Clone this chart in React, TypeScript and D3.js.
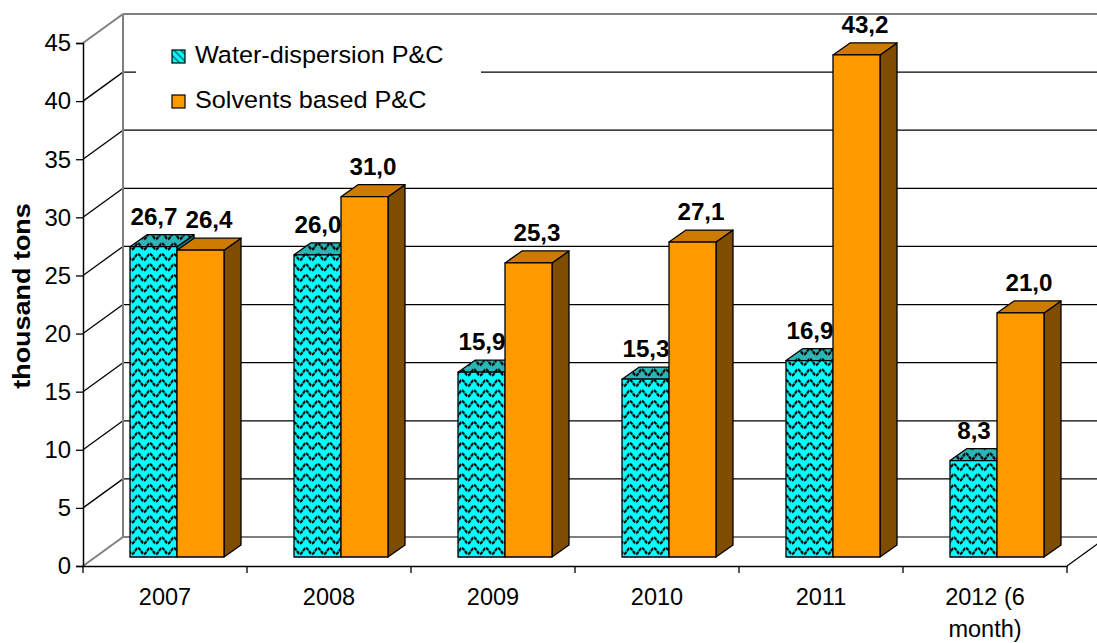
import React, { useEffect, useRef } from "react";
import * as d3 from "d3";

const categories = ["2007", "2008", "2009", "2010", "2011", "2012 (6 month)"];
const categoryLines = [["2007"], ["2008"], ["2009"], ["2010"], ["2011"], ["2012 (6", "month)"]];
const seriesNames = ["Water-dispersion P&C", "Solvents based P&C"];
const waterValues = [26.7, 26.0, 15.9, 15.3, 16.9, 8.3];
const solventValues = [26.4, 31.0, 25.3, 27.1, 43.2, 21.0];
const yTicks = [0, 5, 10, 15, 20, 25, 30, 35, 40, 45];

const WIDTH = 1097;
const HEIGHT = 643;
const FONT = "Arial, 'Liberation Sans', sans-serif";

export default function App() {
  const svgRef = useRef<SVGSVGElement>(null);

  useEffect(() => {
    const svg = d3.select(svgRef.current);
    svg.selectAll("*").remove();

    const left = 83;
    const right = 1067;
    const bottom = 566;
    const top = 43;
    // depth offsets (3d look)
    const wallDx = 40;
    const wallDy = -29;
    const frontDx = 12;
    const frontDy = -9;
    const barDx = 17;
    const barDy = -12;

    const y = d3.scaleLinear().domain([0, 45]).range([bottom, top]);
    const x0 = d3.scaleBand().domain(categories).range([left, right]).padding(0);
    const bw = x0.bandwidth();
    const x1 = d3
      .scaleBand()
      .domain(seriesNames)
      .range([(bw - 94) / 2, (bw + 94) / 2])
      .padding(0);

    const addText = (
      parent: d3.Selection<any, any, any, any>,
      x: number,
      yy: number,
      txt: string,
      size: number,
      sx: number,
      opts: { anchor?: string; bold?: boolean; rotate?: boolean } = {}
    ) =>
      parent
        .append("text")
        .attr(
          "transform",
          `translate(${x},${yy})${opts.rotate ? " rotate(-90)" : ""} scale(${sx},1)`
        )
        .attr("text-anchor", opts.anchor || "start")
        .attr("font-family", FONT)
        .attr("font-weight", opts.bold ? "bold" : "normal")
        .attr("font-size", size)
        .attr("fill", "#000")
        .text(txt);

    const defs = svg.append("defs");
    const makeWave = (id: string, bg: string) => {
      const p = defs
        .append("pattern")
        .attr("id", id)
        .attr("patternUnits", "userSpaceOnUse")
        .attr("width", 12)
        .attr("height", 10.5);
      p.append("rect").attr("width", 12).attr("height", 10.5).attr("fill", bg);
      p.append("path")
        .attr("d", "M0,8 C2,8 4,2 6,2 C8,2 10,8 12,8")
        .attr("fill", "none")
        .attr("stroke", "#000")
        .attr("stroke-width", 2.2)
        .attr("stroke-dasharray", "3.5,0.8");
    };
    makeWave("wave", "#00ffff");
    makeWave("waveTop", "#2bb5b5");
    const hatch = defs
      .append("pattern")
      .attr("id", "hatch")
      .attr("patternUnits", "userSpaceOnUse")
      .attr("width", 5)
      .attr("height", 5)
      .attr("patternTransform", "rotate(45)");
    hatch.append("rect").attr("width", 5).attr("height", 5).attr("fill", "#00ffff");
    hatch.append("line").attr("x1", 0).attr("x2", 5).attr("y1", 2.5).attr("y2", 2.5).attr("stroke", "#006666").attr("stroke-width", 1.5);

    // back wall gridlines
    const grid = svg.append("g");
    yTicks.forEach((t) => {
      const edge = t === 0 || t === 45;
      grid
        .append("line")
        .attr("x1", left + wallDx)
        .attr("x2", right + wallDx)
        .attr("y1", y(t) + wallDy)
        .attr("y2", y(t) + wallDy)
        .attr("stroke", edge ? "#808080" : "#000")
        .attr("stroke-width", edge ? 2 : 1.3);
      grid
        .append("line")
        .attr("x1", left)
        .attr("x2", left + wallDx)
        .attr("y1", y(t))
        .attr("y2", y(t) + wallDy)
        .attr("stroke", edge ? "#808080" : "#000")
        .attr("stroke-width", edge ? 2 : 1.3);
    });
    grid
      .append("line")
      .attr("x1", left + wallDx)
      .attr("x2", left + wallDx)
      .attr("y1", y(45) + wallDy)
      .attr("y2", y(0) + wallDy)
      .attr("stroke", "#808080")
      .attr("stroke-width", 2);
    grid
      .append("line")
      .attr("x1", right)
      .attr("x2", right + wallDx)
      .attr("y1", y(0))
      .attr("y2", y(0) + wallDy)
      .attr("stroke", "#000")
      .attr("stroke-width", 1.3);

    // legend box (covers gridlines)
    const legend = svg.append("g");
    legend.append("rect").attr("x", 136).attr("y", 20).attr("width", 345).attr("height", 102).attr("fill", "#fff");
    const legendFills = ["url(#hatch)", "#ff9900"];
    seriesNames.forEach((s, i) => {
      const ly = 50 + i * 45;
      legend
        .append("rect")
        .attr("x", 172)
        .attr("y", ly)
        .attr("width", 13)
        .attr("height", 13)
        .attr("fill", legendFills[i])
        .attr("stroke", "#000")
        .attr("stroke-width", 1.2);
      addText(legend, 195, ly + 13, s, 24.5, 1.03);
    });

    // bars
    const bars = svg.append("g");
    const fmt = (v: number) => v.toFixed(1).replace(".", ",");
    const drawBar = (cat: string, series: string, v: number, front: string, topFill: string, side: string) => {
      const bx = (x0(cat) as number) + (x1(series) as number) + frontDx;
      const w = x1.bandwidth();
      const by0 = y(0) + frontDy;
      const by1 = y(v) + frontDy;
      const g = bars.append("g").attr("stroke", "#000").attr("stroke-width", 1.3).attr("stroke-linejoin", "round");
      g.append("polygon")
        .attr("points", [[bx + w, by1], [bx + w + barDx, by1 + barDy], [bx + w + barDx, by0 + barDy], [bx + w, by0]].join(" "))
        .attr("fill", side);
      g.append("polygon")
        .attr("points", [[bx, by1], [bx + barDx, by1 + barDy], [bx + w + barDx, by1 + barDy], [bx + w, by1]].join(" "))
        .attr("fill", topFill);
      g.append("rect").attr("x", bx).attr("y", by1).attr("width", w).attr("height", by0 - by1).attr("fill", front);
    };
    const labels: { x: number; y: number; t: string }[] = [];
    categories.forEach((c, i) => {
      drawBar(c, seriesNames[0], waterValues[i], "url(#wave)", "url(#waveTop)", "#008080");
      drawBar(c, seriesNames[1], solventValues[i], "#ff9900", "#cc7a00", "#7f4c00");
      [waterValues[i], solventValues[i]].forEach((v, j) => {
        labels.push({
          x: (x0(c) as number) + (x1(seriesNames[j]) as number) + frontDx + x1.bandwidth() / 2 + barDx / 2 - (j === 0 ? 8 : 0),
          y: y(v) + frontDy + barDy - 10,
          t: fmt(v),
        });
      });
    });
    const labelG = svg.append("g");
    labels.forEach((d) => addText(labelG, d.x, d.y, d.t, 23.5, 1.03, { anchor: "middle", bold: true }));

    // front axes
    const yAxis = d3.axisLeft(y).tickValues(yTicks).tickSize(7).tickFormat(() => "");
    const ya = svg.append("g").attr("transform", `translate(${left},0)`).call(yAxis);
    ya.select(".domain").attr("stroke", "#000").attr("stroke-width", 1.5);
    ya.selectAll(".tick line").attr("stroke", "#000").attr("stroke-width", 1.3);
    const yLab = svg.append("g");
    yTicks.forEach((t) => addText(yLab, 71, y(t) + 8.3, String(t), 23, 1.04, { anchor: "end" }));

    const xAxis = d3.axisBottom(x0).tickSize(0).tickFormat(() => "");
    const xa = svg.append("g").attr("transform", `translate(0,${bottom})`).call(xAxis);
    xa.select(".domain").attr("stroke", "#000").attr("stroke-width", 1.5);
    const bounds = categories.map((c) => x0(c) as number).concat([right]);
    xa.selectAll(".edge")
      .data(bounds)
      .enter()
      .append("line")
      .attr("x1", (d) => d)
      .attr("x2", (d) => d)
      .attr("y1", 0)
      .attr("y2", 7)
      .attr("stroke", "#000")
      .attr("stroke-width", 1.3);
    const xLab = svg.append("g");
    categories.forEach((c, i) => {
      categoryLines[i].forEach((line, k) => {
        addText(xLab, (x0(c) as number) + bw / 2, 605 + k * 31.5, line, 23.5, 1.0, { anchor: "middle" });
      });
    });

    addText(svg, 30, 296, "thousand tons", 24.5, 1.1, { anchor: "middle", bold: true, rotate: true });
  }, []);

  return (
    <div style={{ position: "absolute", left: 0, top: 0 }}>
      <svg ref={svgRef} width={WIDTH} height={HEIGHT} style={{ display: "block", background: "#fff" }} />
    </div>
  );
}
